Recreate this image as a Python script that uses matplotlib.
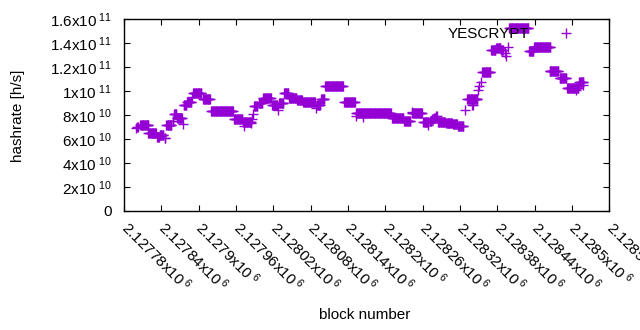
import numpy as np
import matplotlib
matplotlib.use("Agg")
import matplotlib.pyplot as plt
from matplotlib.lines import Line2D

plt.rcParams['font.family'] = ['Liberation Sans', 'DejaVu Sans']
plt.rcParams['mathtext.fontset'] = 'custom'
plt.rcParams['mathtext.rm'] = 'Liberation Sans'
plt.rcParams['mathtext.default'] = 'regular'

# runs of (first block, last block, hashrate)
run_start = [2127799, 2127801, 2127806, 2127819, 2127833, 2127837, 2127845, 2127848,
             2127858, 2127860, 2127865, 2127875, 2127876, 2127881, 2127889, 2127891,
             2127907, 2127920, 2127957, 2127971, 2127973, 2127984, 2127986, 2127987,
             2127989, 2127996, 2128004, 2128018, 2128028, 2128029, 2128037, 2128045,
             2128058, 2128068, 2128089, 2128090, 2128097, 2128103, 2128134, 2128153,
             2128153, 2128164, 2128211, 2128230, 2128243, 2128243, 2128261, 2128269,
             2128272, 2128275, 2128278, 2128282, 2128285, 2128298, 2128309, 2128317,
             2128328, 2128332, 2128340, 2128349, 2128351, 2128354, 2128356, 2128370,
             2128378, 2128386, 2128393, 2128394, 2128397, 2128399, 2128431, 2128439,
             2128464, 2128480, 2128492, 2128507, 2128512, 2128518]
run_end = [2127799, 2127802, 2127819, 2127831, 2127836, 2127843, 2127846, 2127856,
           2127859, 2127864, 2127873, 2127875, 2127880, 2127888, 2127889, 2127904,
           2127918, 2127955, 2127970, 2127984, 2127973, 2127984, 2127986, 2127987,
           2127994, 2128002, 2128016, 2128026, 2128028, 2128036, 2128044, 2128057,
           2128066, 2128087, 2128089, 2128095, 2128102, 2128132, 2128151, 2128153,
           2128209, 2128164, 2128229, 2128240, 2128243, 2128259, 2128269, 2128269,
           2128274, 2128277, 2128280, 2128283, 2128296, 2128307, 2128315, 2128325,
           2128328, 2128348, 2128341, 2128349, 2128351, 2128354, 2128369, 2128377,
           2128385, 2128389, 2128393, 2128394, 2128397, 2128430, 2128438, 2128465,
           2128478, 2128491, 2128510, 2128507, 2128518, 2128518]
run_value = [6.90e10, 7.04e10, 7.15e10, 6.49e10, 6.13e10, 6.35e10, 6.05e10, 7.20e10,
             7.51e10, 8.06e10, 7.74e10, 7.26e10, 8.85e10, 9.06e10, 9.52e10, 9.82e10,
             9.32e10, 8.37e10, 7.65e10, 7.45e10, 7.10e10, 7.32e10, 7.68e10, 8.10e10,
             8.71e10, 9.04e10, 9.41e10, 8.85e10, 8.43e10, 8.99e10, 9.82e10, 9.41e10,
             9.27e10, 9.12e10, 8.57e10, 8.85e10, 9.32e10, 10.43e10, 9.07e10, 7.93e10,
             8.16e10, 7.87e10, 7.74e10, 7.54e10, 8.21e10, 8.16e10, 7.45e10, 7.18e10,
             7.51e10, 7.64e10, 7.76e10, 7.89e10, 7.45e10, 7.37e10, 7.24e10, 7.10e10,
             8.39e10, 9.32e10, 8.85e10, 10.10e10, 10.38e10, 10.79e10, 11.63e10, 13.44e10,
             13.61e10, 13.44e10, 13.16e10, 12.96e10, 13.71e10, 15.30e10, 13.36e10, 13.71e10,
             11.69e10, 11.08e10, 10.29e10, 10.10e10, 10.79e10, 10.52e10]

x_ticks = [2127780 + 60 * i for i in range(14)]
x_labels = ['2.12778x10$^{\\;6}$', '2.12784x10$^{\\;6}$', '2.1279x10$^{\\;6}$',
            '2.12796x10$^{\\;6}$', '2.12802x10$^{\\;6}$', '2.12808x10$^{\\;6}$',
            '2.12814x10$^{\\;6}$', '2.1282x10$^{\\;6}$', '2.12826x10$^{\\;6}$',
            '2.12832x10$^{\\;6}$', '2.12838x10$^{\\;6}$', '2.12844x10$^{\\;6}$',
            '2.1285x10$^{\\;6}$', '2.12856x10$^{\\;6}$']
y_ticks = [0, 2e10, 4e10, 6e10, 8e10, 1e11, 1.2e11, 1.4e11, 1.6e11]
y_labels = ['0', '2x10$^{\\;10}$', '4x10$^{\\;10}$', '6x10$^{\\;10}$', '8x10$^{\\;10}$',
            '1x10$^{\\;11}$', '1.2x10$^{\\;11}$', '1.4x10$^{\\;11}$', '1.6x10$^{\\;11}$']

blocks = []
rates = []
for s, e, v in zip(run_start, run_end, run_value):
    for b in range(s, e + 1):
        blocks.append(b)
        rates.append(v)

color = '#9400D3'
fs = 11
fig = plt.figure(figsize=(6.4, 3.3), dpi=100)
ax = fig.add_axes([0.194, 0.361, 0.758, 0.581])
ax.plot(blocks, rates, linestyle='none', marker='+', markersize=6.5,
        markeredgewidth=1.0, color=color)

ax.set_xlim(x_ticks[0], x_ticks[-1])
ax.set_ylim(0, 1.6e11)
ax.set_xticks(x_ticks)
ax.set_xticklabels(x_labels, rotation=-45, ha='left', va='center',
                   rotation_mode='anchor', fontsize=fs)
ax.set_yticks(y_ticks)
ax.set_yticklabels(y_labels, fontsize=fs)
ax.tick_params(direction='in', top=True, right=True, length=4, width=0.8)
ax.tick_params(axis='x', pad=10)
ax.tick_params(axis='y', pad=9)
for sp in ax.spines.values():
    sp.set_linewidth(1.0)

ax.set_ylabel('hashrate [h/s]', fontsize=fs)
ax.yaxis.set_label_coords(-0.204, 0.495)
ax.set_xlabel('block number', fontsize=fs)
ax.xaxis.set_label_coords(0.495, -0.505)

handle = Line2D([], [], linestyle='none', marker='+', markersize=6.5,
                markeredgewidth=1.0, color=color)
ax.legend([handle], ['YESCRYPT'], loc='upper right', markerfirst=False,
          frameon=False, fontsize=fs, bbox_to_anchor=(0.97, 1.03),
          handletextpad=1.4)

fig.savefig('out.png', dpi=100)
